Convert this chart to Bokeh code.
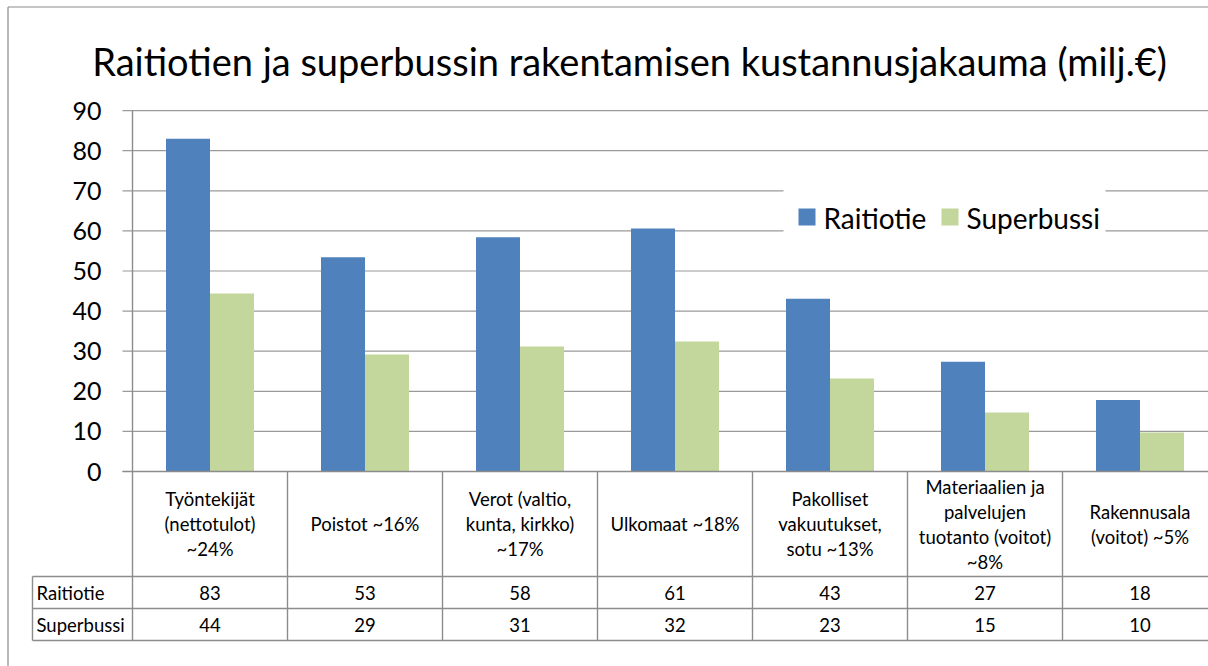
from bokeh.plotting import figure
from bokeh.models import Range1d, ColumnDataSource
from bokeh.embed import file_html
from bokeh.resources import INLINE
from bokeh.core.properties import value

# ---------------- data ----------------
title_text = "Raitiotien ja superbussin rakentamisen kustannusjakauma (milj.€)"
categories = [
    "Työntekijät\n(nettotulot)\n~24%",
    "Poistot ~16%",
    "Verot (valtio,\nkunta, kirkko)\n~17%",
    "Ulkomaat ~18%",
    "Pakolliset\nvakuutukset,\nsotu ~13%",
    "Materiaalien ja\npalvelujen\ntuotanto (voitot)\n~8%",
    "Rakennusala\n(voitot) ~5%",
]
series_names = ["Raitiotie", "Superbussi"]
raitiotie = [83.0, 53.4, 58.4, 60.6, 43.1, 27.4, 17.8]
superbussi = [44.4, 29.2, 31.2, 32.4, 23.2, 14.7, 9.7]
y_ticks = [0, 10, 20, 30, 40, 50, 60, 70, 80, 90]

# ---------------- styles / layout ----------------
FONT = value("Lato")
BLUE = "#4f81bd"
GREEN = "#c3d69b"
GRID = "#9a9a9a"
LINE = "#8c8c8c"

W, H = 1208, 666
PAGE_OFF = 0.0          # page coordinate of canvas origin
CAT_PX = 155.0          # pixels per category
X0_PAGE = 132.0         # page x of category axis start
Y0_PAGE = 471.0         # page y of value 0
PX_PER_UNIT = 4.01      # pixels per value unit

def px(page_x):
    return (page_x - X0_PAGE) / CAT_PX

def py(page_y):
    return (Y0_PAGE - page_y) / PX_PER_UNIT

x_start = px(PAGE_OFF)
x_end = x_start + W / CAT_PX
y_end = py(PAGE_OFF)
y_start = y_end - H / PX_PER_UNIT

p = figure(width=W, height=H, output_backend="svg", toolbar_location=None,
           x_range=Range1d(x_start, x_end), y_range=Range1d(y_start, y_end),
           min_border=0, min_border_left=0, min_border_right=0,
           min_border_top=0, min_border_bottom=0)
p.axis.visible = False
p.grid.visible = False
p.outline_line_color = None
p.background_fill_color = "white"
p.border_fill_color = "white"

# chart border (left and top visible)
p.segment(x0=[px(7.5), px(7.5)], y0=[py(6.5), py(6.5)],
          x1=[px(7.5), x_end], y1=[y_start, py(6.5)],
          line_color=LINE, line_width=1.2)

# gridlines + tick marks
p.segment(x0=[px(122)] * len(y_ticks), y0=y_ticks,
          x1=[x_end] * len(y_ticks), y1=y_ticks,
          line_color=GRID, line_width=1.2)

# tick labels
p.text(x=[px(101)] * len(y_ticks), y=y_ticks, text=[str(t) for t in y_ticks],
       text_font=FONT, text_font_size="25px", text_align="right",
       text_baseline="middle", text_color="black")

# bars
n = len(categories)
idx = list(range(n))
bar_w = 44.0 / CAT_PX
src = ColumnDataSource(dict(
    xr=[i + 0.5 - bar_w / 2 for i in idx],
    xs=[i + 0.5 + bar_w / 2 for i in idx],
    r=raitiotie, s=superbussi))
p.vbar(x="xr", top="r", bottom=0, width=bar_w, source=src,
       fill_color=BLUE, line_color=None)
p.vbar(x="xs", top="s", bottom=0, width=bar_w, source=src,
       fill_color=GREEN, line_color=None)

# table lines
row_top, row1, row2, row3 = 471, 576, 608, 640
p.segment(x0=[0], y0=[max(y_ticks)], x1=[0], y1=[py(row3)],
          line_color=LINE, line_width=1.4)
p.segment(x0=list(range(1, n)), y0=[0] * (n - 1),
          x1=list(range(1, n)), y1=[py(row3)] * (n - 1),
          line_color=LINE, line_width=1.4)
p.segment(x0=[px(32)] * 3, y0=[py(row1), py(row2), py(row3)],
          x1=[x_end] * 3, y1=[py(row1), py(row2), py(row3)],
          line_color=LINE, line_width=1.4)
p.segment(x0=[px(32)], y0=[py(row1)], x1=[px(32)], y1=[py(row3)],
          line_color=LINE, line_width=1.4)
p.segment(x0=[px(122)], y0=[0], x1=[x_end], y1=[0],
          line_color=LINE, line_width=1.4)

# category header text
hx, hy, ht = [], [], []
center_y = (row_top + row1) / 2.0
for i, lab in enumerate(categories):
    lines = lab.split("\n")
    m = len(lines)
    for k, ln in enumerate(lines):
        hx.append(i + 0.5)
        hy.append(py(center_y + (k - (m - 1) / 2.0) * 25))
        ht.append(ln)
p.text(x=hx, y=hy, text=ht, text_font=FONT, text_font_size="18.5px",
       text_align="center", text_baseline="middle", text_color="black")

# table values
for vals, rtop, rbot in [(raitiotie, row1, row2), (superbussi, row2, row3)]:
    p.text(x=[i + 0.5 for i in idx], y=[py((rtop + rbot) / 2.0)] * n,
           text=[str(int(round(v))) for v in vals],
           text_font=FONT, text_font_size="18.5px", text_align="center",
           text_baseline="middle", text_color="black")
p.text(x=[px(36)] * 2, y=[py((row1 + row2) / 2.0), py((row2 + row3) / 2.0)],
       text=series_names, text_font=FONT, text_font_size="18.5px",
       text_align="left", text_baseline="middle", text_color="black")

# legend
p.quad(left=[px(783)], right=[px(1105)], top=[py(186)], bottom=[py(240)],
       fill_color="white", line_color=None)
p.quad(left=[px(798), px(941)], right=[px(815), px(958)],
       top=[py(208)] * 2, bottom=[py(225)] * 2,
       fill_color=[BLUE, GREEN], line_color=None)
p.text(x=[px(823), px(966)], y=[py(217)] * 2, text=series_names,
       text_font=FONT, text_font_size="28px", text_align="left",
       text_baseline="middle", text_color="black")

# title
p.text(x=[px(629)], y=[py(60)], text=[title_text], text_font=FONT,
       text_font_size="38px", text_align="center", text_baseline="middle",
       text_color="black")

open("out.html", "w").write(file_html(p, INLINE))
